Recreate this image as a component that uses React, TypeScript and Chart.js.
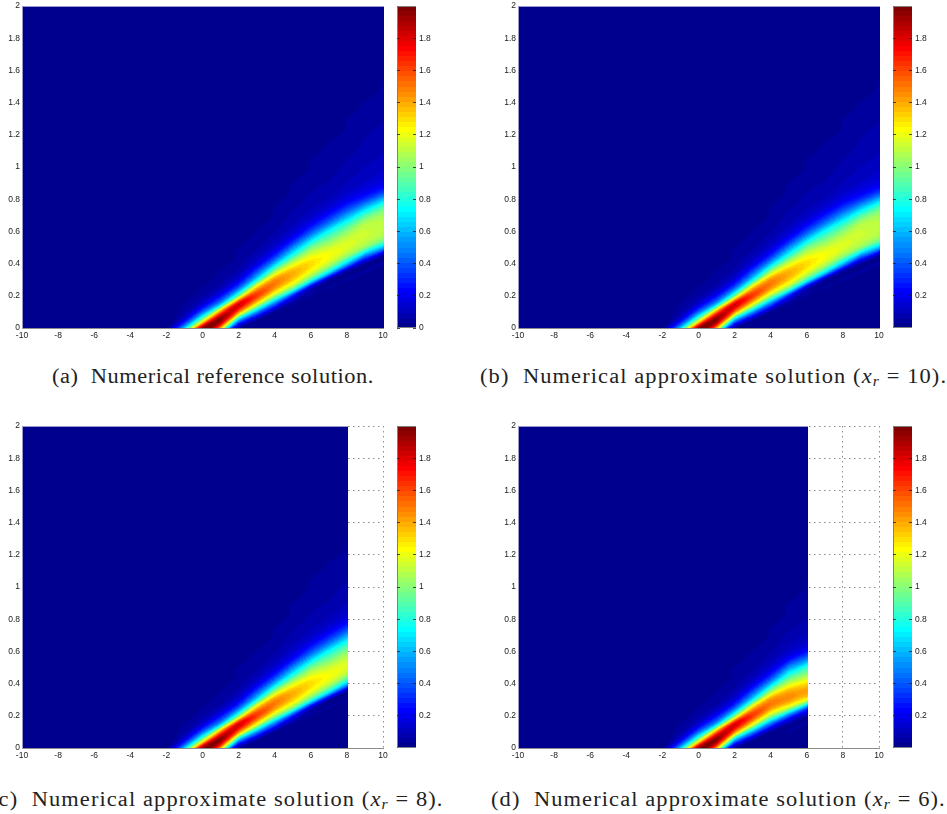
import React, { useEffect, useRef } from "react";
import { Chart, registerables } from "chart.js";

Chart.register(...registerables);

// ---- Data ----
const xTicks = [-10, -8, -6, -4, -2, 0, 2, 4, 6, 8, 10];
const yTicks = [0, 0.2, 0.4, 0.6, 0.8, 1, 1.2, 1.4, 1.6, 1.8, 2];
const barTicksFirst = [0, 0.2, 0.4, 0.6, 0.8, 1, 1.2, 1.4, 1.6, 1.8];
const barTicksOther = [0.2, 0.4, 0.6, 0.8, 1, 1.2, 1.4, 1.6, 1.8];

// value rows are y = 0, 0.05, 0.10, ... ; omitted trailing values are 0
const yStep = 0.05;
const xNodes = [-3, -2, -1, 0, 1, 2, 3, 4, 5, 6, 7, 8, 9, 10];
const colM3 = [0.005];
const colM2 = [0.02, 0.01];
const colM1 = [0.65, 0.2, 0.06, 0.035];
const col0 = [1.95, 1.05, 0.45, 0.15, 0.06, 0.033];
const col1 = [1.4, 1.98, 1.5, 0.6, 0.25, 0.09, 0.05, 0.035];
const col2 = [0.04, 0.6, 1.5, 1.8, 0.95, 0.42, 0.17, 0.08, 0.05, 0.038, 0.033];
const col3 = [0, 0.05, 0.55, 1.25, 1.63, 1.35, 0.72, 0.38, 0.17, 0.09, 0.055, 0.04, 0.033];
const col4 = [0, 0, 0.04, 0.45, 1.05, 1.45, 1.45, 1.05, 0.6, 0.3, 0.15, 0.09, 0.06, 0.045, 0.035, 0.033];
const col5 = [0, 0, 0, 0.04, 0.3, 1.0, 1.33, 1.38, 1.15, 0.8, 0.5, 0.25, 0.14, 0.09, 0.07, 0.055, 0.045, 0.037, 0.033];
const col6 = [0, 0, 0, 0, 0.035, 0.13, 0.85, 1.2, 1.3, 1.18, 0.95, 0.65, 0.38, 0.21, 0.12, 0.09, 0.07, 0.06, 0.05, 0.04, 0.035, 0.033];
const col7 = [0, 0, 0, 0, 0, 0.035, 0.07, 0.75, 1.12, 1.22, 1.13, 0.95, 0.75, 0.47, 0.27, 0.15, 0.1, 0.08, 0.065, 0.055, 0.045, 0.04, 0.035, 0.033];
const col8 = [0, 0, 0, 0, 0, 0, 0.035, 0.05, 0.62, 1.03, 1.17, 1.13, 1.0, 0.8, 0.55, 0.33, 0.19, 0.12, 0.095, 0.08, 0.07, 0.06, 0.05, 0.042, 0.036, 0.034, 0.033];
const col9 = [0, 0, 0, 0, 0, 0, 0, 0.04, 0.05, 0.5, 1.0, 1.12, 1.13, 1.08, 0.88, 0.6, 0.33, 0.19, 0.13, 0.11, 0.095, 0.085, 0.075, 0.065, 0.06, 0.05, 0.04, 0.035, 0.033];
const col10 = [0, 0, 0, 0, 0, 0, 0, 0, 0.04, 0.06, 0.6, 1.0, 1.1, 1.1, 1.05, 0.88, 0.6, 0.32, 0.19, 0.14, 0.115, 0.1, 0.09, 0.08, 0.07, 0.065, 0.06, 0.05, 0.045, 0.04, 0.036, 0.033];
// the wedge starts just under the axis: values the band carries at y = -0.05 and y = -0.10
const underA = [0.03, 0.3, 1.5, 1.85, 0.3, 0.01, 0, 0, 0, 0, 0, 0, 0, 0];
const underB = [0.1, 0.7, 1.7, 0.9, 0.02, 0, 0, 0, 0, 0, 0, 0, 0, 0];
// panel (d) bends lower near its cut at x = 6
const col5d = [0, 0, 0.035, 0.05, 0.42, 1.12, 1.45, 1.4, 1.12, 0.82, 0.52, 0.25, 0.13, 0.09, 0.07, 0.055, 0.045, 0.037, 0.033];
const col6d = [0, 0, 0, 0.035, 0.06, 0.42, 1.2, 1.42, 1.3, 1.05, 0.82, 0.5, 0.25, 0.14, 0.1, 0.08, 0.065, 0.055, 0.045, 0.038, 0.035, 0.033];

const fullColumns = [colM3, colM2, colM1, col0, col1, col2, col3, col4, col5, col6, col7, col8, col9, col10];
const cutColumns = [colM3, colM2, colM1, col0, col1, col2, col3, col4, col5d, col6d, col7, col8, col9, col10];

const captionTags = ["(a)", "(b)", "(c)", "(d)"];
const captionBase = "Numerical reference solution.";
const captionApprox = "Numerical approximate solution";
const cutoffs = [10, 10, 8, 6];

// ---- Colour map (MATLAB jet, 64 levels, 0..2) ----
const LEVELS = 64;
const CMAX = 2;
const ramp = (k: number) => (k < 1 ? 0 : k <= 16 ? k / 16 : k <= 31 ? 1 : k <= 47 ? (48 - k) / 16 : 0);
const jet = (i: number): [number, number, number] => [
  Math.round(255 * ramp(i - 23)),
  Math.round(255 * ramp(i - 7)),
  Math.round(255 * ramp(i + 9)),
];
const levelOf = (v: number) => Math.max(0, Math.min(LEVELS - 1, Math.floor((v / CMAX) * LEVELS)));

// direction the shading follows between two neighbouring columns (as a shaded mesh would)
const SHEAR = 0.063;

// ---- Plugins that paint the cells through the chart's scales ----
const heatPlugin = {
  id: "heat",
  beforeDatasetsDraw(chart: any) {
    const { ctx, chartArea, scales } = chart;
    const pts = chart.data.datasets[0].data as { x: number; y: number; v: number }[];
    const xMax = chart.options.plugins.heat.xMax as number;
    const key = (i: number, j: number) => (i + 20) * 1000 + (j + 10);
    const table = new Map<number, number>();
    pts.forEach((p) => table.set(key(p.x, Math.round(p.y / yStep)), p.v));
    const at = (i: number, j: number) => table.get(key(i, Math.max(j, -2))) ?? 0;
    const profile = (i: number, y: number) => {
      const t = y / yStep;
      const j = Math.floor(t);
      const u = t - j;
      const p0 = at(i, j - 1);
      const p1 = at(i, j);
      const p2 = at(i, j + 1);
      const p3 = at(i, j + 2);
      const val =
        p1 +
        0.5 * u * (p2 - p0 + u * (2 * p0 - 5 * p1 + 4 * p2 - p3 + u * (3 * (p1 - p2) + p3 - p0)));
      return Math.max(0, val);
    };
    const x0 = Math.round(chartArea.left) + 1;
    const x1 = Math.round(scales.x.getPixelForValue(xMax)) + 1;
    const y0 = Math.round(chartArea.top) + 1;
    const y1 = Math.round(chartArea.bottom);
    const w = x1 - x0;
    const h = y1 - y0;
    const img = ctx.createImageData(w, h);
    for (let r = 0; r < h; r++) {
      const yv = Math.max(0, scales.y.getValueForPixel(y0 + r + 0.5));
      for (let c = 0; c < w; c++) {
        const xv = scales.x.getValueForPixel(x0 + c + 0.5);
        const i = Math.floor(xv);
        const f = xv - i;
        const v = (1 - f) * profile(i, yv - SHEAR * f) + f * profile(i + 1, yv + SHEAR * (1 - f));
        const col = jet(levelOf(v));
        const o = (r * w + c) * 4;
        img.data[o] = col[0];
        img.data[o + 1] = col[1];
        img.data[o + 2] = col[2];
        img.data[o + 3] = 255;
      }
    }
    ctx.putImageData(img, x0, y0);
    ctx.save();
    ctx.strokeStyle = "#9a9ac8";
    ctx.lineWidth = 1;
    ctx.beginPath();
    ctx.moveTo(x0 - 1, y0 - 0.5);
    ctx.lineTo(x1, y0 - 0.5);
    ctx.stroke();
    ctx.restore();
  },
};

const barPlugin = {
  id: "colorBar",
  beforeDatasetsDraw(chart: any) {
    const { ctx, chartArea, scales } = chart;
    const levels = chart.data.datasets[0].data as { x: number; y: number; lo: number; hi: number; i: number }[];
    levels.forEach((l) => {
      const top = Math.round(scales.y.getPixelForValue(l.hi));
      const bot = Math.round(scales.y.getPixelForValue(l.lo));
      const c = jet(l.i);
      ctx.fillStyle = `rgb(${c[0]},${c[1]},${c[2]})`;
      ctx.fillRect(chartArea.left, top, chartArea.right - chartArea.left, bot - top);
    });
    ctx.save();
    ctx.strokeStyle = "#808080";
    ctx.lineWidth = 1;
    ctx.beginPath();
    ctx.moveTo(chartArea.right, chartArea.top + 0.5);
    ctx.lineTo(chartArea.left + 0.5, chartArea.top + 0.5);
    ctx.lineTo(chartArea.left + 0.5, chartArea.bottom - 0.5);
    ctx.lineTo(chartArea.right, chartArea.bottom - 0.5);
    ctx.stroke();
    ctx.restore();
  },
};

const tickFont = { family: "'Liberation Sans', Arial, sans-serif", size: 8.5 };
const fixedTicks = (values: number[]) => (scale: any) => {
  scale.ticks = values.map((value) => ({ value }));
};
const label = (v: any) => String(Number(Number(v).toFixed(1)));
const exactFit = (prop: "width" | "height", size: number) => (s: any) => {
  s[prop] = size;
  s.paddingTop = s.paddingBottom = s.paddingLeft = s.paddingRight = 0;
};

function heatConfig(columns: number[][], xMax: number): any {
  const data = columns.flatMap((col, i) => [
    { x: xNodes[i], y: -2 * yStep, v: underB[i] },
    { x: xNodes[i], y: -1 * yStep, v: underA[i] },
    ...col.map((v, j) => ({ x: xNodes[i], y: j * yStep, v })),
  ]);
  return {
    type: "scatter",
    data: { datasets: [{ data, pointRadius: 0, showLine: false }] },
    plugins: [heatPlugin],
    options: {
      animation: false,
      responsive: false,
      devicePixelRatio: 1,
      parsing: false,
      normalized: true,
      layout: { padding: { top: 6, right: 12, left: 0, bottom: 0 } },
      plugins: { legend: { display: false }, tooltip: { enabled: false }, heat: { xMax } },
      scales: {
        x: {
          type: "linear",
          min: -10,
          max: 10,
          afterBuildTicks: fixedTicks(xTicks),
          afterFit: exactFit("height", 16),
          grid: { color: "#8c8c8c", drawTicks: false },
          border: { display: true, color: "#8c8c8c", dash: [1.5, 3.5] },
          ticks: { font: tickFont, color: "#222", padding: 3, maxRotation: 0, autoSkip: false, callback: label },
        },
        y: {
          type: "linear",
          min: 0,
          max: 2,
          afterBuildTicks: fixedTicks(yTicks),
          afterFit: exactFit("width", 22),
          grid: { color: "#8c8c8c", drawTicks: false },
          border: { display: true, color: "#9a9ac8", dash: [1.5, 3.5] },
          ticks: { font: tickFont, color: "#222", padding: 2, autoSkip: false, callback: label },
        },
      },
    },
  };
}

function barConfig(ticks: number[]): any {
  const data = Array.from({ length: LEVELS }, (_, i) => ({
    x: 0.5,
    y: ((i + 0.5) * CMAX) / LEVELS,
    lo: (i * CMAX) / LEVELS,
    hi: ((i + 1) * CMAX) / LEVELS,
    i,
  }));
  return {
    type: "scatter",
    data: { datasets: [{ data, pointRadius: 0, showLine: false }] },
    plugins: [barPlugin],
    options: {
      animation: false,
      responsive: false,
      devicePixelRatio: 1,
      parsing: false,
      layout: { padding: { top: 6, left: 0, right: 0, bottom: 6 } },
      plugins: { legend: { display: false }, tooltip: { enabled: false } },
      scales: {
        x: { type: "linear", min: 0, max: 1, display: false },
        y: {
          type: "linear",
          position: "right",
          min: 0,
          max: CMAX,
          afterBuildTicks: fixedTicks(ticks),
          afterFit: exactFit("width", 30),
          grid: { color: "rgba(30,30,30,0.8)", z: 1, drawTicks: false },
          border: { display: false, dash: [3, 13, 3] },
          ticks: { font: tickFont, color: "#222", padding: 3, autoSkip: false, callback: label },
        },
      },
    },
  };
}

// ---- Page layout ----
const plotLefts = [22, 518, 22, 518];
const plotTops = [6, 6, 426, 426];
const PLOT_W = 361;
const PLOT_H = 322;
const BAR_W = 19;
const BAR_OFFSET = 375;
const captionLefts = [52, 480, -10, 491];
const captionTops = [364, 364, 787, 787];

const captionStyle: React.CSSProperties = {
  position: "absolute",
  whiteSpace: "pre",
  fontFamily: "'Liberation Serif', serif",
  fontSize: 20,
  lineHeight: "24px",
  letterSpacing: 0.5,
  color: "#222",
  transform: "scaleX(1.12)",
  transformOrigin: "left center",
};

function Caption({ n }: { n: number }) {
  const pos = { left: captionLefts[n], top: captionTops[n] };
  if (n === 0) {
    return <span style={{ ...captionStyle, ...pos }}>{captionTags[n] + "  " + captionBase}</span>;
  }
  return (
    <span style={{ ...captionStyle, ...pos, letterSpacing: 1 }}>
      {captionTags[n] + "  " + captionApprox + " ("}
      <i>x</i>
      <i style={{ fontSize: 14, position: "relative", top: 3 }}>r</i>
      {" = " + cutoffs[n] + ")."}
    </span>
  );
}

export default function App() {
  const heatRefs = useRef<(HTMLCanvasElement | null)[]>([]);
  const barRefs = useRef<(HTMLCanvasElement | null)[]>([]);

  useEffect(() => {
    const charts: Chart[] = [];
    cutoffs.forEach((xMax, n) => {
      const columns = n === 3 ? cutColumns : fullColumns;
      charts.push(new Chart(heatRefs.current[n]!, heatConfig(columns, xMax)));
      charts.push(new Chart(barRefs.current[n]!, barConfig(n === 0 ? barTicksFirst : barTicksOther)));
    });
    return () => charts.forEach((c) => c.destroy());
  }, []);

  return (
    <div style={{ position: "absolute", left: 0, top: 0, width: 947, height: 814, overflow: "hidden", background: "#fff" }}>
      {cutoffs.map((_, n) => (
        <React.Fragment key={n}>
          <canvas
            ref={(el) => { heatRefs.current[n] = el; }}
            width={22 + PLOT_W + 12}
            height={6 + PLOT_H + 16}
            style={{ position: "absolute", left: plotLefts[n] - 22, top: plotTops[n] - 6, width: 22 + PLOT_W + 12, height: 6 + PLOT_H + 16 }}
          />
          <canvas
            ref={(el) => { barRefs.current[n] = el; }}
            width={BAR_W + 30}
            height={6 + PLOT_H + 6}
            style={{ position: "absolute", left: plotLefts[n] + BAR_OFFSET, top: plotTops[n] - 6, width: BAR_W + 30, height: 6 + PLOT_H + 6 }}
          />
          <Caption n={n} />
        </React.Fragment>
      ))}
    </div>
  );
}
